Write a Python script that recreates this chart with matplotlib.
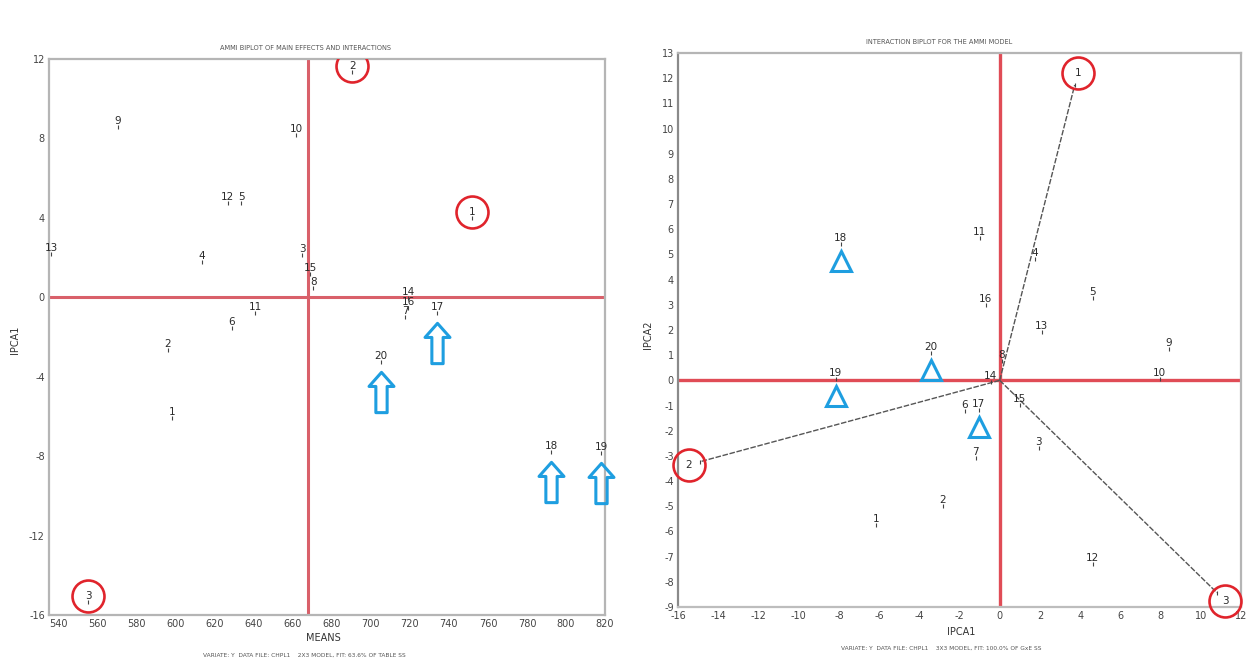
import numpy as np
import matplotlib
matplotlib.use("Agg")
import matplotlib.pyplot as plt
from matplotlib.path import Path
from matplotlib.transforms import offset_copy

plt.rcParams["font.family"] = ["DejaVu Sans"]
plt.rcParams["axes.unicode_minus"] = False

# ---- data -------------------------------------------------------------
genotypes = [str(i) for i in range(1, 21)]
environments = ["1", "2", "3"]

# AMMI1 biplot: genotype means vs IPCA1 scores
geno_means = [598, 596, 664.7, 613.5, 633.5, 628.8, 717.6, 670.4, 570.4, 661.7,
              640.6, 626.5, 536, 719, 668.8, 719, 734, 792.4, 818, 705.3]
geno_ipca1_main = [-6.1, -2.67, 2.11, 1.76, 4.73, -1.56, -1.0, 0.45, 8.6, 8.16,
                   -0.8, 4.73, 2.2, -0.05, 1.16, -0.55, -0.8, -7.8, -7.85, -3.27]
env_means = [751.9, 690.4, 555]
env_ipca1_main = [3.98, 11.33, -15.36]
grand_mean = 667.8

# AMMI2 interaction biplot: IPCA1 vs IPCA2 scores
geno_ipca1 = [-6.17, -2.84, 1.94, 1.74, 4.63, -1.74, -1.19, 0.1, 8.41, 7.96,
              -1.0, 4.63, 2.09, -0.45, 1.0, -0.70, -1.04, -7.91, -8.16, -3.43]
geno_ipca2 = [-5.73, -4.98, -2.7, 4.82, 3.28, -1.2, -3.07, 0.78, 1.25, 0.06,
              5.66, -7.3, 1.93, -0.05, -0.97, 3.0, -1.17, 5.42, 0.06, 1.09]
env_ipca1 = [3.73, -14.9, 10.8]
env_ipca2 = [11.73, -3.23, -8.43]

highlighted = ["17", "18", "19", "20"]

left_xticks = list(range(540, 821, 20))
left_yticks = [12, 8, 4, 0, -4, -8, -12, -16]
right_xticks = list(range(-16, 13, 2))
right_yticks = list(range(-9, 14))

# ---- styles -----------------------------------------------------------
RED_LINE = "#d9606a"
RED_CIRC = "#e0242c"
BLUE = "#1e9ee0"
SPINE = "#b5b5b5"
TXT = "#2a2a2a"
LABEL_FS = 7.5

W, H = 1255, 660
fig = plt.figure(figsize=(W / 100, H / 100), dpi=100)
fig.patch.set_facecolor("white")


def px_axes(l, t, r, b):
    return fig.add_axes([l / W, 1 - b / H, (r - l) / W, (b - t) / H])


def style_axes(ax):
    for s in ax.spines.values():
        s.set_color(SPINE)
        s.set_linewidth(1.6)
    ax.tick_params(length=0, labelsize=7, colors="#444", pad=3)


# block arrow pointing up (hollow)
arrow_verts = [(0, 1), (0.62, 0.3), (0.28, 0.3), (0.28, -1), (-0.28, -1),
               (-0.28, 0.3), (-0.62, 0.3), (0, 1)]
arrow_codes = [Path.MOVETO] + [Path.LINETO] * 6 + [Path.CLOSEPOLY]
arrow_marker = Path(arrow_verts, arrow_codes)


def label_points(ax, xs, ys, labels, dy=6):
    tr_lab = offset_copy(ax.transData, fig=fig, x=0, y=dy, units="dots")
    ax.plot(xs, ys, ls="none", marker="|", ms=3, mew=0.8, color="#444", zorder=4)
    for x, y, t in zip(xs, ys, labels):
        ax.text(x, y, t, transform=tr_lab, ha="center", va="center",
                fontsize=LABEL_FS, color=TXT, zorder=5)


# ---- left panel: AMMI1 biplot -----------------------------------------
ax1 = px_axes(49, 59, 605, 615)
ax1.set_xlim(535, 820)
ax1.set_ylim(-16, 12)
style_axes(ax1)
ax1.set_xticks(left_xticks)
ax1.set_yticks(left_yticks)
ax1.axvline(grand_mean, color=RED_LINE, lw=2.2, zorder=2)
ax1.axhline(0, color=RED_LINE, lw=2.2, zorder=2)

label_points(ax1, geno_means, geno_ipca1_main, genotypes)
label_points(ax1, env_means, env_ipca1_main, environments)

tr_circ = offset_copy(ax1.transData, fig=fig, x=0, y=6, units="dots")
ax1.plot(env_means, env_ipca1_main, ls="none", marker="o", ms=23, mfc="none",
         mec=RED_CIRC, mew=1.9, transform=tr_circ, zorder=6)

hx = [geno_means[genotypes.index(g)] for g in highlighted]
hy = [geno_ipca1_main[genotypes.index(g)] for g in highlighted]
tr_arrow = offset_copy(ax1.transData, fig=fig, x=0, y=-30, units="dots")
ax1.plot(hx, hy, ls="none", marker=arrow_marker, ms=29, mfc="none", mec=BLUE,
         mew=2.2, transform=tr_arrow, zorder=6, clip_on=False)

fig.text(305 / W, 1 - 48 / H, "AMMI BIPLOT OF MAIN EFFECTS AND INTERACTIONS",
         ha="center", va="center", fontsize=4.8, color="#555")
fig.text(323 / W, 1 - 638 / H, "MEANS", ha="center", va="center",
         fontsize=7, color="#333")
fig.text(15 / W, 1 - 340 / H, "IPCA1", ha="center", va="center",
         rotation=90, fontsize=7, color="#333")
fig.text(304 / W, 1 - 655 / H,
         "VARIATE: Y  DATA FILE: CHPL1    2X3 MODEL, FIT: 63.6% OF TABLE SS",
         ha="center", va="center", fontsize=4.2, color="#555")

# ---- right panel: interaction biplot -----------------------------------
ax2 = px_axes(678, 53, 1241, 607)
ax2.set_xlim(-16, 12)
ax2.set_ylim(-9, 13)
style_axes(ax2)
ax2.spines["left"].set_color("#8a8a8a")
ax2.spines["bottom"].set_color("#bdbdbd")
ax2.set_xticks(right_xticks)
ax2.set_yticks(right_yticks)
ax2.axvline(0, color="#e04c56", lw=2.4, zorder=2)
ax2.axhline(0, color="#e04c56", lw=2.4, zorder=2)

for ex, ey in zip(env_ipca1, env_ipca2):
    ax2.plot([0, ex], [0, ey], color="#555", lw=1.0, ls=(0, (4, 1.2)), zorder=3)

label_points(ax2, geno_ipca1, geno_ipca2, genotypes)

# environment labels sit just beyond the end of each vector
ax2.plot(env_ipca1, env_ipca2, ls="none", marker="|", ms=3, mew=0.8,
         color="#444", zorder=4)
for ex, ey, t in zip(env_ipca1, env_ipca2, environments):
    px0 = ax2.transData.transform((0, 0))
    px1 = ax2.transData.transform((ex, ey))
    d = (px1 - px0) / np.hypot(*(px1 - px0)) * 12
    tr = offset_copy(ax2.transData, fig=fig, x=d[0], y=d[1], units="dots")
    ax2.text(ex, ey, t, transform=tr, ha="center", va="center",
             fontsize=LABEL_FS, color=TXT, zorder=5, clip_on=False)
    ax2.plot([ex], [ey], marker="o", ms=23, mfc="none", mec=RED_CIRC, mew=1.9,
             transform=tr, zorder=6, clip_on=False)

hx2 = [geno_ipca1[genotypes.index(g)] for g in highlighted]
hy2 = [geno_ipca2[genotypes.index(g)] for g in highlighted]
tr_tri = offset_copy(ax2.transData, fig=fig, x=0, y=-17, units="dots")
ax2.plot(hx2, hy2, ls="none", marker="^", ms=15, mfc="none", mec=BLUE,
         mew=2.2, transform=tr_tri, zorder=6)

fig.text(939 / W, 1 - 42 / H, "INTERACTION BIPLOT FOR THE AMMI MODEL",
         ha="center", va="center", fontsize=4.8, color="#555")
fig.text(961 / W, 1 - 632 / H, "IPCA1", ha="center", va="center",
         fontsize=7, color="#333")
fig.text(648 / W, 1 - 335 / H, "IPCA2", ha="center", va="center",
         rotation=90, fontsize=7, color="#333")
fig.text(941 / W, 1 - 648 / H,
         "VARIATE: Y  DATA FILE: CHPL1    3X3 MODEL, FIT: 100.0% OF GxE SS",
         ha="center", va="center", fontsize=4.2, color="#555")

fig.savefig("out.png", dpi=100, facecolor="white")
